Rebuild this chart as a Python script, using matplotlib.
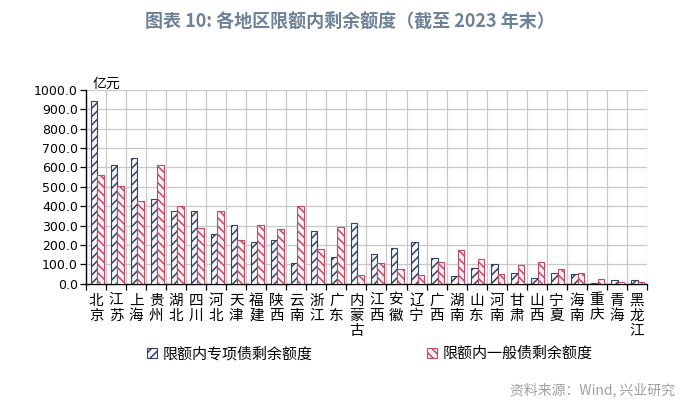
import numpy as np
import matplotlib
matplotlib.use("Agg")
import matplotlib.pyplot as plt
from matplotlib.patches import Patch

plt.rcParams['font.family'] = ['Noto Sans CJK SC', 'DejaVu Sans']
plt.rcParams['hatch.linewidth'] = 1.1

regions = ['北京', '江苏', '上海', '贵州', '湖北', '四川', '河北', '天津', '福建', '陕西',
           '云南', '浙江', '广东', '内蒙古', '江西', '安徽', '辽宁', '广西', '湖南', '山东',
           '河南', '甘肃', '山西', '宁夏', '海南', '重庆', '青海', '黑龙江']
# 限额内专项债剩余额度 (亿元)
special = [943, 614, 648, 437, 373, 378, 258, 302, 217, 225,
           109, 274, 140, 312, 156, 184, 217, 132, 40, 81,
           104, 55, 29, 54, 52, 3, 19, 19]
# 限额内一般债剩余额度 (亿元)
general = [562, 503, 428, 610, 399, 289, 374, 227, 305, 284,
           402, 180, 295, 45, 109, 76, 45, 111, 172, 128,
           49, 95, 111, 76, 54, 24, 10, 9]
series_names = ['限额内专项债剩余额度', '限额内一般债剩余额度']
y_ticks = np.arange(0, 1001, 100)

c_special = '#36435c'
c_general = '#c04a66'

fig = plt.figure(figsize=(7, 4.12), dpi=100)
ax = fig.add_axes([0.123, 0.311, 0.801, 0.471])

n = len(regions)
x = np.arange(n)
w = 0.32
shift = 0.05
ax.bar(x + shift - w / 2, special, width=w, facecolor='#f2f5fa', edgecolor=c_special,
       hatch='////', linewidth=0.8, zorder=3)
ax.bar(x + shift + w / 2, general, width=w, facecolor='#fdf0f3', edgecolor=c_general,
       hatch='\\\\\\\\', linewidth=0.8, zorder=3)

ax.set_xlim(-0.5, n - 0.5)
ax.set_ylim(0, 1000)
ax.set_yticks(y_ticks)
ax.set_yticklabels([f'{v:.1f}' for v in y_ticks], family='DejaVu Sans', fontsize=9)

# gridlines at category boundaries
for b in np.arange(-0.5, n, 1.0):
    ax.axvline(b, color='#c8c8c8', linewidth=0.9, zorder=1)
ax.yaxis.grid(True, color='#c8c8c8', linewidth=0.9, zorder=1)
ax.set_axisbelow(True)

ax.set_xticks(np.arange(-0.5, n, 1.0))
ax.set_xticklabels([])
ax.set_xticks(x, minor=True)
ax.set_xticklabels(['\n'.join(r) for r in regions], minor=True,
                   fontsize=10.5, linespacing=1.1, va='top')
ax.tick_params(axis='x', which='minor', length=0, pad=7)
ax.tick_params(axis='x', which='major', length=4, width=0.9, direction='out')
ax.tick_params(axis='y', length=4, width=0.9, direction='out', pad=2)

for s in ['top', 'right']:
    ax.spines[s].set_visible(False)
for s in ['left', 'bottom']:
    ax.spines[s].set_linewidth(1.0)
    ax.spines[s].set_color('black')

fig.text(0.132, 0.796, '亿元', fontsize=10, ha='left', va='center')

fig.text(0.5, 0.948, '图表 10: 各地区限额内剩余额度（截至 2023 年末）', ha='center', va='center',
         fontsize=13, fontweight='bold', color='#6f8298')

handles = [Patch(facecolor='#f2f5fa', edgecolor=c_special, hatch='////', linewidth=0.8),
           Patch(facecolor='#fdf0f3', edgecolor=c_general, hatch='\\\\\\\\', linewidth=0.8)]
fig.legend(handles, series_names, ncol=2, loc='center', bbox_to_anchor=(0.528, 0.141),
           frameon=False, fontsize=10.8, handlelength=0.7, handleheight=0.7,
           handletextpad=0.35, columnspacing=7.6)

fig.text(0.965, 0.053, '资料来源：Wind, 兴业研究', ha='right', va='center',
         fontsize=10, color='#a0a0a0')

fig.savefig('out.png', dpi=100)
